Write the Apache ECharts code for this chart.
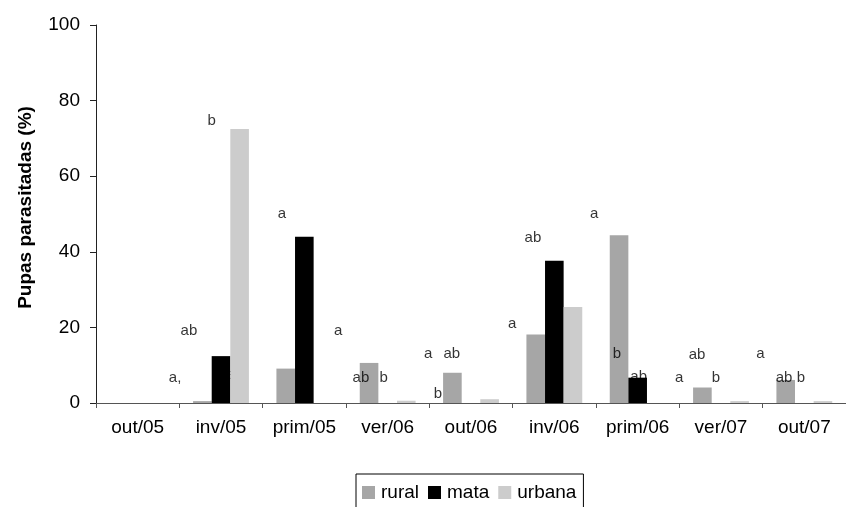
<!DOCTYPE html>
<html>
<head>
<meta charset="utf-8">
<script src="https://cdn.jsdelivr.net/npm/echarts@6/dist/echarts.min.js"></script>
<style>
html,body{margin:0;padding:0;background:#fff;}
#c{width:846px;height:507px;}
</style>
</head>
<body>
<div id="c"></div>
<script>
const categories = ['out/05','inv/05','prim/05','ver/06','out/06','inv/06','prim/06','ver/07','out/07'];
const rural  = [0, 0.5, 9.1, 10.6, 8.0, 18.1, 44.4, 4.1, 6.1];
const mata   = [0, 12.4, 44.0, 0, 0, 37.6, 6.7, 0, 0];
const urbana = [0, 72.5, 0, 0.6, 1.0, 25.4, 0, 0.5, 0.5];
const yTicks = [0, 20, 40, 60, 80, 100];

// significance letters: text, position in category units, value-axis height
const letterText = ['a,','ab','b','a','a','ab','b','a','ab','b','a','ab','a','b','a','ab','b','a','ab','b'];
const letterX    = [0.949,1.115,1.388,2.230,2.906,3.179,3.452,3.986,4.270,4.104,4.994,5.243,5.979,6.251,6.999,7.212,7.438,7.972,8.256,8.458];
const letterY    = [6.6,19.0,74.6,50.0,19.0,6.6,6.6,13.0,13.0,2.4,20.9,43.7,50.0,13.0,6.6,12.7,6.6,13.0,6.6,6.6];
// letters partly covered by bars
const hiddenText = ['a','ab'];
const hiddenX    = [1.613,6.512];
const hiddenY    = [7.5,6.9];

const FONT = 'Liberation Sans, Arial, sans-serif';
const chart = echarts.init(document.getElementById('c'), null, {renderer:'canvas'});

function letterSeries(texts, xs, ys, z) {
  return {
    type:'scatter', xAxisIndex:1, yAxisIndex:0, symbolSize:0, z:z, silent:true,
    data: texts.map((t,i)=>[xs[i], ys[i], t]),
    label:{show:true, position:'inside', formatter:p=>p.data[2], color:'#000', fontSize:15, fontFamily:FONT},
    tooltip:{show:false}
  };
}

chart.setOption({
  animation:false,
  backgroundColor:'#fff',
  textStyle:{fontFamily:FONT},
  grid:{left:96, top:25, width:759, bottom:104, containLabel:false},
  legend:{
    data:['rural','mata','urbana'],
    left:356, top:474, orient:'horizontal',
    icon:'rect', itemWidth:13, itemHeight:13, itemGap:9,
    borderColor:'#000', borderWidth:1, padding:[9,7,12,6],
    textStyle:{fontSize:19, color:'#000', fontFamily:FONT, padding:[0,0,0,1]}
  },
  xAxis:[{
    type:'category', data:categories, boundaryGap:true,
    axisLine:{show:true, lineStyle:{color:'#555', width:1}},
    axisTick:{show:true, length:5, inside:false, alignWithLabel:false, lineStyle:{color:'#555'}},
    axisLabel:{fontSize:19, color:'#000', margin:15, fontFamily:FONT, interval:0},
    splitLine:{show:false}
  },{
    type:'value', min:0, max:9, show:false, gridIndex:0
  }],
  yAxis:{
    type:'value', min:yTicks[0], max:yTicks[yTicks.length-1], interval:20,
    name:'Pupas parasitadas (%)', nameLocation:'middle', nameGap:61,
    nameTextStyle:{fontSize:19, fontWeight:'bold', color:'#000', fontFamily:FONT, padding:[0,0,0,13]},
    axisLine:{show:true, lineStyle:{color:'#222', width:1}},
    axisTick:{show:true, length:6, lineStyle:{color:'#222'}},
    axisLabel:{fontSize:19, color:'#000', margin:16, fontFamily:FONT},
    splitLine:{show:false}
  },
  series:[
    letterSeries(hiddenText, hiddenX, hiddenY, 1),
    {name:'rural', type:'bar', data:rural, itemStyle:{color:'#a6a6a6'}, barGap:'0%', barCategoryGap:'33%', z:2},
    {name:'mata', type:'bar', data:mata, itemStyle:{color:'#000000'}, barGap:'0%', barCategoryGap:'33%', z:2},
    {name:'urbana', type:'bar', data:urbana, itemStyle:{color:'#cccccc'}, barGap:'0%', barCategoryGap:'33%', z:2},
    letterSeries(letterText, letterX, letterY, 5)
  ]
});
</script>
</body>
</html>
